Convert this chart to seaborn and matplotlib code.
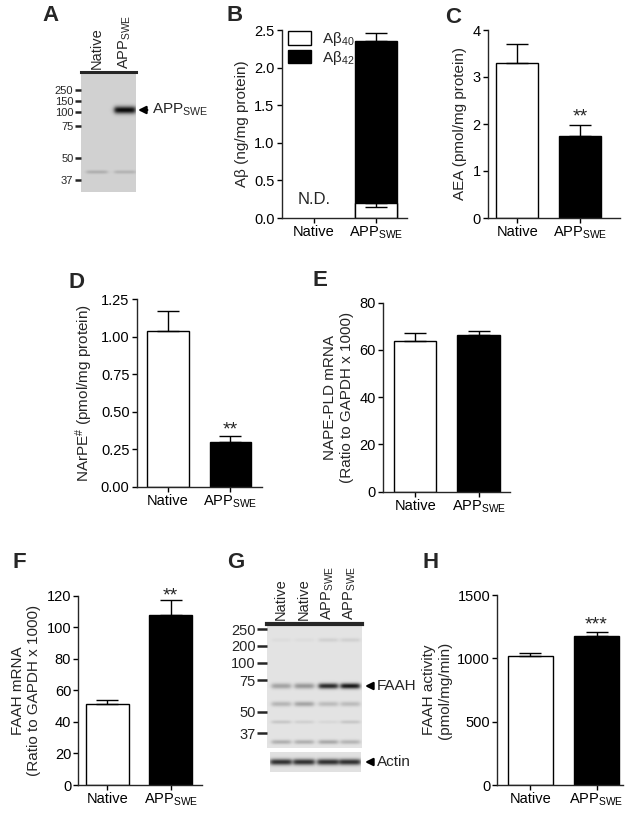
import numpy as np
import pandas as pd
import matplotlib
matplotlib.use("Agg")
import matplotlib.pyplot as plt
from matplotlib.patches import Patch
import seaborn as sns

# ---------------- data ----------------
groups = ["Native", r"APP$_{\mathrm{SWE}}$"]

abeta40 = [0.0, 0.20]
abeta40_err = [0.0, 0.05]
abeta42 = [0.0, 2.15]
abeta42_err = [0.0, 0.11]

aea = [3.30, 1.75]
aea_err = [0.40, 0.22]

narpe = [1.04, 0.30]
narpe_err = [0.13, 0.04]

napepld = [64.0, 66.5]
napepld_err = [3.0, 1.5]

faah_mrna = [51.5, 108.0]
faah_mrna_err = [2.5, 9.0]

faah_act = [1020.0, 1180.0]
faah_act_err = [25.0, 25.0]

# western blot A
blotA_lanes = ["Native", r"APP$_{\mathrm{SWE}}$"]
blotA_mw = ["250", "150", "100", "75", "50", "37"]
blotA_app = [0.0, 0.95]
blotA_low = [0.16, 0.14]

# western blot G
blotG_lanes = ["Native", "Native", r"APP$_{\mathrm{SWE}}$", r"APP$_{\mathrm{SWE}}$"]
blotG_mw = ["250", "200", "100", "75", "50", "37"]
blotG_faah = [0.28, 0.33, 0.80, 0.88]
blotG_b1 = [0.03, 0.03, 0.08, 0.08]
blotG_b3 = [0.20, 0.27, 0.17, 0.17]
blotG_b4 = [0.12, 0.08, 0.05, 0.12]
blotG_b5 = [0.22, 0.22, 0.25, 0.20]
blotG_actin = [0.78, 0.78, 0.78, 0.78]

# ---------------- style ----------------
sns.set_style("ticks")
plt.rcParams["font.family"] = ["Liberation Sans", "DejaVu Sans"]
plt.rcParams["mathtext.fontset"] = "custom"
plt.rcParams["mathtext.rm"] = "Liberation Sans"
plt.rcParams["mathtext.it"] = "Liberation Sans:italic"
plt.rcParams["mathtext.bf"] = "Liberation Sans:bold"

W, H = 633, 813
fig = plt.figure(figsize=(W / 100, H / 100), dpi=100)

LW = 1.0
TICK_FS = 10.5
LABEL_FS = 11


def px_axes(x0, y0, x1, y1):
    return fig.add_axes([x0 / W, 1 - y1 / H, (x1 - x0) / W, (y1 - y0) / H])


def style_axes(ax):
    for s in ["top", "right"]:
        ax.spines[s].set_visible(False)
    for s in ["left", "bottom"]:
        ax.spines[s].set_linewidth(LW)
    ax.tick_params(axis="both", direction="out", length=3.6, width=LW,
                   labelsize=TICK_FS, pad=1.5, colors="black")
    ax.set_xlabel("")


def add_err(ax, vals, errs, up=True):
    idx = [i for i, e in enumerate(errs) if e > 0]
    v = [vals[i] for i in idx]
    e = [errs[i] for i in idx]
    z = np.zeros(len(idx))
    yerr = [z, e] if up else [e, z]
    ax.errorbar(idx, v, yerr=yerr, fmt="none", ecolor="black",
                elinewidth=LW, capsize=8, capthick=LW, zorder=3)


def bar_panel(rect, vals, errs, ylim, yticks, fmt, ylabel, xlim,
              stars=None, star_y=None):
    ax = px_axes(*rect)
    df = pd.DataFrame({"group": groups, "value": vals})
    sns.barplot(data=df, x="group", y="value", hue="group",
                palette=["white", "black"], saturation=1, edgecolor="black",
                linewidth=LW, width=0.67, errorbar=None, legend=False, ax=ax)
    add_err(ax, vals, errs)
    ax.set_ylim(*ylim)
    ax.set_xlim(*xlim)
    ax.set_yticks(yticks)
    ax.set_yticklabels([fmt.format(t) for t in yticks])
    ax.set_ylabel(ylabel, fontsize=LABEL_FS, labelpad=4)
    style_axes(ax)
    if stars:
        ax.annotate(stars, xy=(1, star_y), xytext=(0, -8),
                    textcoords="offset points", ha="center", va="baseline",
                    fontsize=14, annotation_clip=False)
    return ax


# ---------------- Panel B ----------------
axB = px_axes(281.7, 30, 407, 218)
total = [a + b for a, b in zip(abeta40, abeta42)]
dfB = pd.DataFrame({"group": groups, "total": total, "a40": abeta40})
sns.barplot(data=dfB, x="group", y="total", color="black", saturation=1,
            edgecolor="black", linewidth=LW, width=0.67, errorbar=None, ax=axB)
sns.barplot(data=dfB, x="group", y="a40", color="white", saturation=1,
            edgecolor="black", linewidth=LW, width=0.67, errorbar=None, ax=axB)
for p in axB.patches:
    if p.get_height() == 0:
        p.set_visible(False)
add_err(axB, total, abeta42_err, up=True)
add_err(axB, abeta40, abeta40_err, up=False)
axB.set_ylim(0, 2.5)
axB.set_xlim(-0.52, 1.50)
bt = [0, 0.5, 1.0, 1.5, 2.0, 2.5]
axB.set_yticks(bt)
axB.set_yticklabels([f"{t:.1f}" for t in bt])
axB.set_ylabel("Aβ (ng/mg protein)", fontsize=LABEL_FS, labelpad=4)
style_axes(axB)
axB.text(0, 0.24, "N.D.", ha="center", va="center", fontsize=12)
handles = [Patch(facecolor="white", edgecolor="black", linewidth=1.0),
           Patch(facecolor="black", edgecolor="black", linewidth=1.0)]
axB.legend(handles, ["Aβ$_{40}$", "Aβ$_{42}$"], loc="upper left",
           bbox_to_anchor=(0.05, 1.0), frameon=False, fontsize=11,
           handlelength=1.5, handleheight=1.0, labelspacing=0.05,
           handletextpad=0.7, borderpad=0, borderaxespad=0)

# ---------------- Panels C-F, H ----------------
bar_panel((487.7, 30, 620, 218), aea, aea_err, (0, 4), [0, 1, 2, 3, 4], "{:.0f}",
          "AEA (pmol/mg protein)", (-0.47, 1.63), "**", 2.30)
bar_panel((136.7, 299.3, 261.7, 486.7), narpe, narpe_err, (0, 1.25),
          [0, 0.25, 0.5, 0.75, 1.0, 1.25], "{:.2f}",
          r"NArPE$^{\#}$ (pmol/mg protein)", (-0.50, 1.50), "**", 0.425)
bar_panel((382.7, 302.7, 510, 491.7), napepld, napepld_err, (0, 80),
          [0, 20, 40, 60, 80], "{:.0f}",
          "NAPE-PLD mRNA\n(Ratio to GAPDH x 1000)", (-0.51, 1.49))
bar_panel((78.3, 595.7, 201.7, 785), faah_mrna, faah_mrna_err, (0, 120),
          [0, 20, 40, 60, 80, 100, 120], "{:.0f}",
          "FAAH mRNA\n(Ratio to GAPDH x 1000)", (-0.46, 1.49), "**", 124)
bar_panel((497.3, 595, 623, 785), faah_act, faah_act_err, (0, 1500),
          [0, 500, 1000, 1500], "{:.0f}",
          "FAAH activity\n(pmol/mg/min)", (-0.50, 1.40), "***", 1318)


# ---------------- Blots ----------------
def render_blot(ax, width, height, bg, lane_x, lane_w, bands):
    yy, xx = np.mgrid[0:height, 0:width] + 0.5
    img = np.full((height, width), bg, dtype=float)
    for row, sig, inten in bands:
        for lx, v in zip(lane_x, inten):
            hprof = 1.0 / (1.0 + np.exp((np.abs(xx - lx) - lane_w / 2) / 1.2))
            vprof = np.exp(-0.5 * ((yy - row) / sig) ** 2)
            img -= v * hprof * vprof * bg
    img = np.clip(img, 0, 1)
    ax.imshow(img, cmap="gray", vmin=0, vmax=1, extent=[0, width, height, 0],
              aspect="auto", interpolation="bilinear")
    ax.set_xlim(0, width)
    ax.set_ylim(height, 0)
    for s in ["left", "right", "bottom", "top"]:
        ax.spines[s].set_visible(False)
    ax.set_xticks([])


# Blot A
ax0, ay0, ax1, ay1 = 81, 72, 136, 192
axA = px_axes(ax0, ay0, ax1, ay1)
laneA = [97 - ax0, 125 - ax0]
render_blot(axA, ax1 - ax0, ay1 - ay0, 0.82, laneA, 21,
            [(38, 2.6, blotA_app), (100, 1.3, blotA_low)])
axA.spines["top"].set_visible(True)
axA.spines["top"].set_linewidth(2.2)
axA.set_yticks([18.5, 29, 40, 54, 86, 108])
axA.set_yticklabels(blotA_mw)
axA.tick_params(axis="y", direction="out", length=4.5, width=1.8, pad=1,
                labelsize=8)
for lx, lab in zip(laneA, blotA_lanes):
    axA.text(lx, -3, lab, rotation=90, ha="center", va="bottom", fontsize=10.5)

# Blot G
gx0, gy0, gx1, gy1 = 266.7, 624, 361.7, 748
axG = px_axes(gx0, gy0, gx1, gy1)
laneG_abs = [281, 304, 328, 350]
laneG = [x - gx0 for x in laneG_abs]
render_blot(axG, int(round(gx1 - gx0)), int(gy1 - gy0), 0.89, laneG, 19,
            [(16, 1.5, blotG_b1), (62, 2.0, blotG_faah), (80, 1.8, blotG_b3),
             (98, 1.3, blotG_b4), (118, 1.6, blotG_b5)])
axG.spines["top"].set_visible(True)
axG.spines["top"].set_linewidth(3)
axG.set_yticks([5, 21.7, 38.7, 56, 87.7, 109])
axG.set_yticklabels(blotG_mw)
axG.tick_params(axis="y", direction="out", length=7, width=1.8, pad=1,
                labelsize=10.5)
for lx, lab in zip(laneG, blotG_lanes):
    axG.text(lx, -4, lab, rotation=90, ha="center", va="bottom", fontsize=10.5)

# Actin
cx0, cy0, cx1, cy1 = 270, 752, 361, 772
axAct = px_axes(cx0, cy0, cx1, cy1)
render_blot(axAct, cx1 - cx0, cy1 - cy0, 0.88, [x - cx0 for x in laneG_abs], 21,
            [(10, 2.2, blotG_actin)])
axAct.set_yticks([])

# ---------------- overlay: letters & arrows ----------------
ov = fig.add_axes([0, 0, 1, 1], zorder=5)
ov.set_xlim(0, W)
ov.set_ylim(H, 0)
ov.axis("off")
ov.patch.set_alpha(0)

letters = [("A", 42, 5), ("B", 227, 5), ("C", 445, 7), ("D", 68, 272),
           ("E", 313, 270), ("F", 13, 552), ("G", 227, 552), ("H", 423, 552)]
for t, x, y in letters:
    ov.text(x, y, t, fontsize=16, fontweight="bold", ha="left", va="top")

arrow_kw = dict(arrowstyle="-|>", color="black", lw=1.6, mutation_scale=11,
                shrinkA=1, shrinkB=0)
ov.annotate(r"APP$_{\mathrm{SWE}}$", xy=(138, 110), xytext=(152, 110),
            ha="left", va="center", fontsize=11, arrowprops=arrow_kw)
ov.annotate("FAAH", xy=(365, 686), xytext=(377, 686), ha="left", va="center",
            fontsize=11, arrowprops=arrow_kw)
ov.annotate("Actin", xy=(365, 762), xytext=(377, 762), ha="left", va="center",
            fontsize=11, arrowprops=arrow_kw)

fig.savefig("out.png", dpi=100)
